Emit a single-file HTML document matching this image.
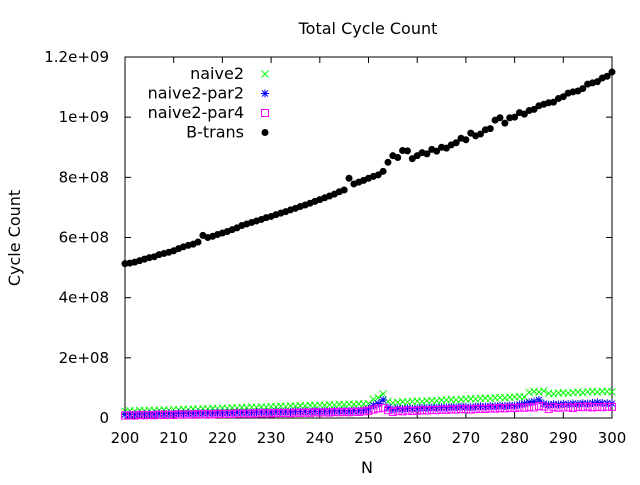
<!DOCTYPE html>
<html><head><meta charset="utf-8"><style>
html,body{margin:0;padding:0;background:#fff}
svg text{font-family:"DejaVu Sans",sans-serif;font-size:15px;fill:#000}
svg text.big{font-size:16px}
</style></head><body>
<svg id="chart" width="640" height="480" viewBox="0 0 640 480" xmlns="http://www.w3.org/2000/svg">
<text class="big" x="368" y="34" text-anchor="middle">Total Cycle Count</text>
<text class="big" x="367" y="473" text-anchor="middle">N</text>
<text class="big" transform="translate(20,238) rotate(-90)" text-anchor="middle">Cycle Count</text>
<g id="axes"></g>
<g id="marks"></g>
<g id="legend"></g>
</svg>
<script>
const xTicks=[200,210,220,230,240,250,260,270,280,290,300];
const yTicks=[0,2e8,4e8,6e8,8e8,1e9,1.2e9];
const yTickLabels=["0","2e+08","4e+08","6e+08","8e+08","1e+09","1.2e+09"];
const seriesNames=["naive2","naive2-par2","naive2-par4","B-trans"];
const startN=200;
const bTrans=[513,515,518,523,528,533,536,543,547,551,556,563,569,574,578,585,607,600,604,610,615,620,626,632,640,645,650,655,660,666,670,676,681,686,692,697,703,708,714,720,726,732,738,744,752,758,797,778,784,790,797,803,808,820,850,872,866,889,888,862,872,882,878,893,887,900,897,908,915,930,925,947,938,944,958,962,990,998,980,998,1000,1015,1010,1022,1026,1038,1043,1048,1050,1062,1068,1080,1084,1087,1095,1110,1114,1118,1130,1136,1150];
const naive2=[22,24,23,25,24,26,25,26,27,26,28,27,29,28,30,29,31,30,32,31,33,32,34,33,35,34,36,35,37,36,38,37,39,38,40,39,41,40,42,41,43,42,44,43,45,44,46,45,47,46,48,62,68,80,55,50,52,54,53,55,56,55,57,58,57,59,60,61,60,62,63,64,63,65,66,65,67,68,67,69,70,71,70,85,88,86,90,82,80,83,84,82,85,86,84,87,88,86,89,88,87];
const par2=[12,13,12,14,13,14,13,15,14,15,14,16,15,16,15,17,16,17,16,18,17,18,17,19,18,19,18,20,19,20,19,21,20,21,20,22,21,22,21,23,22,23,22,24,23,24,23,25,24,26,30,42,48,60,35,28,32,30,33,31,32,34,33,35,34,36,35,37,36,38,37,36,38,39,38,40,39,41,40,42,41,45,48,52,55,60,48,44,46,45,47,46,48,47,49,48,50,52,50,49,48];
const par4=[8,9,8,10,9,10,9,11,10,11,10,12,11,12,11,13,12,13,12,14,13,14,13,15,14,15,14,16,15,16,15,17,16,17,16,18,17,18,17,19,18,19,18,20,19,20,19,21,20,22,24,28,32,34,26,20,24,22,25,23,24,26,25,27,26,28,27,29,28,30,29,28,30,31,30,32,31,33,32,34,33,35,34,36,35,40,38,30,36,34,35,36,33,37,36,38,35,37,36,38,37];

const X0=125,X1=612,Y0=418,Y1=57;
const sx=v=>X0+(v-200)/100*(X1-X0);
const sy=v=>Y0-v/1.2e9*(Y0-Y1);
const NS="http://www.w3.org/2000/svg";
function mk(tag,attrs,parent){const e=document.createElementNS(NS,tag);for(const k in attrs)e.setAttribute(k,attrs[k]);parent.appendChild(e);return e;}
const axes=document.getElementById('axes');
const frame=mk('rect',{x:X0,y:Y1,width:X1-X0,height:Y0-Y1,fill:'none',stroke:'#000','stroke-width':1},axes);


xTicks.forEach(t=>{const x=sx(t);
 mk('line',{x1:x,y1:Y0,x2:x,y2:Y0-6,stroke:'#000'},axes);
 mk('line',{x1:x,y1:Y1,x2:x,y2:Y1+6,stroke:'#000'},axes);
 const tx=mk('text',{x:x,y:Y0+25,'text-anchor':'middle'},axes);tx.textContent=t;
 
 
});
yTicks.forEach((t,i)=>{const y=sy(t);
 mk('line',{x1:X0,y1:y,x2:X0+6,y2:y,stroke:'#000'},axes);
 mk('line',{x1:X1,y1:y,x2:X1-6,y2:y,stroke:'#000'},axes);
 const tx=mk('text',{x:X0-16,y:y+5,'text-anchor':'end'},axes);tx.textContent=yTickLabels[i];
 
 
});
const marks=document.getElementById('marks');
function cross(x,y,p){mk('path',{d:`M${x-3.5},${y-3.5}L${x+3.5},${y+3.5}M${x-3.5},${y+3.5}L${x+3.5},${y-3.5}`,stroke:'#00ff00','stroke-width':1},p);}
function star(x,y,p){mk('path',{d:`M${x-4},${y}L${x+4},${y}M${x},${y-4}L${x},${y+4}M${x-3},${y-3}L${x+3},${y+3}M${x-3},${y+3}L${x+3},${y-3}`,stroke:'#0000ff','stroke-width':1},p);}
function sq(x,y,p){mk('rect',{x:x-3.5,y:y-3.5,width:7,height:7,fill:'none',stroke:'#ff00ff','stroke-width':1},p);}
function dot(x,y,p){mk('circle',{cx:x,cy:y,r:3.5,fill:'#000'},p);}
const gG=mk('g',{},marks);
const gB=mk('g',{},marks);
const gM=mk('g',{},marks);
const gK=mk('g',{},marks);
naive2.forEach((v,i)=>cross(sx(startN+i),sy(v*1e6),gG));
par2.forEach((v,i)=>star(sx(startN+i),sy(v*1e6),gB));
par4.forEach((v,i)=>sq(sx(startN+i),sy(v*1e6),gM));
bTrans.forEach((v,i)=>dot(sx(startN+i),sy(v*1e6),gK));
const lg=document.getElementById('legend');
const fns=[cross,star,sq,dot];
seriesNames.forEach((n,i)=>{const y=74+i*19.5;
 const t=mk('text',{x:244,y:y+5,'text-anchor':'end','class':'big'},lg);t.textContent=n;
 
 
 fns[i](265,y,lg);
});
</script>
</body></html>
